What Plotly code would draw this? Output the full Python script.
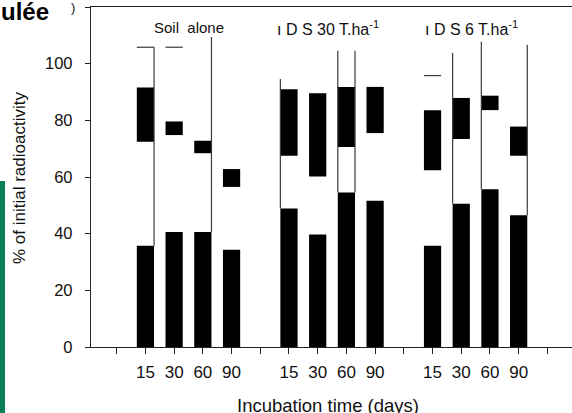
import plotly.graph_objects as go

# ---------------- data ----------------
groups = ["Soil  alone", "D S 30 T.ha<sup>-1</sup>", "D S 6 T.ha<sup>-1</sup>"]
days = ["15", "30", "60", "90"]

# lower black segment (0 -> value)
bottom_vals = [35.7, 40.6, 40.6, 34.3,
               48.9, 39.7, 54.5, 51.6,
               35.7, 50.6, 55.7, 46.5]
# upper black segment (low -> high)
upper_low = [72.4, 74.8, 68.4, 56.5,
             67.5, 60.2, 70.6, 75.5,
             62.4, 73.4, 83.6, 67.5]
upper_high = [91.6, 79.6, 72.8, 62.8,
              91.0, 89.6, 91.8, 91.8,
              83.6, 87.9, 88.7, 77.8]
# thin outline lines (top value, side of bar, cap on top)
line_top = [105.8, 105.8, 109.4, None,
            94.6, None, 104.6, None,
            95.8, 103.8, 107.7, 106.7]
line_side = ["R", "", "R", "",
             "L", "", "LR", "",
             "", "L", "L", "R"]
line_cap = [True, True, False, False,
            False, False, False, False,
            True, False, False, False]

tick_positions = list(range(1, 17))
tick_labels = ["", "15", "30", "60", "90", "", "15", "30", "60", "90", "", "15", "30", "60", "90", ""]

# ---------------- layout constants ----------------
W, H = 572, 413
ML, MR, MT, MB = 91, 0, 7, 66
PW, PH = W - ML - MR, H - MT - MB
FONT = "Liberation Sans, Arial, sans-serif"
BAR_W = 0.6


def pxx(px):
    return (px - ML) / PW


def pxy(py):
    return (H - MB - py) / PH


positions = [2 + g * 5 + d for g in range(len(groups)) for d in range(len(days))]

fig = go.Figure()

# thin lines
lx, ly = [], []
for p, b, top, side, cap in zip(positions, bottom_vals, line_top, line_side, line_cap):
    if top is None:
        continue
    if "L" in side:
        lx += [p - BAR_W / 2, p - BAR_W / 2, None]
        ly += [top, b, None]
    if "R" in side:
        lx += [p + BAR_W / 2, p + BAR_W / 2, None]
        ly += [top, b, None]
    if cap:
        lx += [p - BAR_W / 2, p + BAR_W / 2, None]
        ly += [top, top, None]
fig.add_trace(go.Scatter(x=lx, y=ly, mode="lines", line=dict(color="#3a3a3a", width=1.2),
                         hoverinfo="skip", showlegend=False, cliponaxis=False))

fig.add_trace(go.Bar(x=positions, y=bottom_vals, base=[0] * len(positions), width=BAR_W,
                     marker=dict(color="black", line=dict(width=0)), showlegend=False))
fig.add_trace(go.Bar(x=positions, y=[h - l for h, l in zip(upper_high, upper_low)], base=upper_low,
                     width=BAR_W, marker=dict(color="black", line=dict(width=0)), showlegend=False))

fig.update_layout(
    width=W, height=H,
    margin=dict(l=ML, r=MR, t=MT, b=MB, pad=0),
    paper_bgcolor="white", plot_bgcolor="white",
    barmode="overlay",
    font=dict(family=FONT, color="#111"),
    xaxis=dict(range=[0.104, 16.858], tickmode="array", tickvals=tick_positions, ticktext=tick_labels,
               ticks="outside", ticklen=6, tickwidth=1.2, tickcolor="#222",
               showline=True, linecolor="#222", linewidth=1.3, mirror=True,
               showgrid=False, zeroline=False, tickfont=dict(size=17, family=FONT),
               ticklabelstandoff=3),
    yaxis=dict(range=[0, 120], tickmode="array", tickvals=[0, 20, 40, 60, 80, 100, 120],
               ticktext=["0", "20", "40", "60", "80", "100", ""],
               ticks="outside", ticklen=5, tickwidth=1.2, tickcolor="#222",
               showline=True, linecolor="#222", linewidth=1.3,
               showgrid=False, zeroline=False, tickfont=dict(size=16.5, family=FONT),
               ticklabelstandoff=9),
)

# group labels
label_left_px = [151.7, 275.0, 423.0]
label_sizes = [15, 16, 16]
group_texts = [groups[0], "ı " + groups[1], "ı " + groups[2]]
for txt, lp, fs in zip(group_texts, label_left_px, label_sizes):
    fig.add_annotation(text=txt, xref="paper", yref="paper", x=pxx(lp), y=pxy(27.5),
                       xanchor="left", yanchor="middle", showarrow=False,
                       font=dict(size=fs, family=FONT, color="#111"))

# axis titles
fig.add_annotation(text="Incubation time (days)", xref="paper", yref="paper",
                   x=pxx(328.3), y=pxy(405.5), xanchor="center", yanchor="middle",
                   showarrow=False, font=dict(size=18.5, family=FONT, color="#111"))
fig.add_annotation(text="% of initial radioactivity", xref="paper", yref="paper",
                   x=pxx(19), y=pxy(178), xanchor="center", yanchor="middle", textangle=-90,
                   showarrow=False, font=dict(size=17, family=FONT, color="#111"))

# fragments at top-left
fig.add_annotation(text="<b>ulée</b>", xref="paper", yref="paper", x=pxx(51), y=pxy(12),
                   xanchor="right", yanchor="middle", showarrow=False,
                   font=dict(size=24, family=FONT, color="black"))
fig.add_annotation(text=")", xref="paper", yref="paper", x=pxx(73), y=pxy(8),
                   xanchor="center", yanchor="middle", showarrow=False,
                   font=dict(size=13, family=FONT, color="#111"))

# green strip at left edge
fig.add_shape(type="rect", xref="paper", yref="paper", x0=pxx(0), x1=pxx(5), y0=pxy(413), y1=pxy(181),
              fillcolor="#0a7f5a", line=dict(width=0), layer="above")

fig.write_html("out.html")
